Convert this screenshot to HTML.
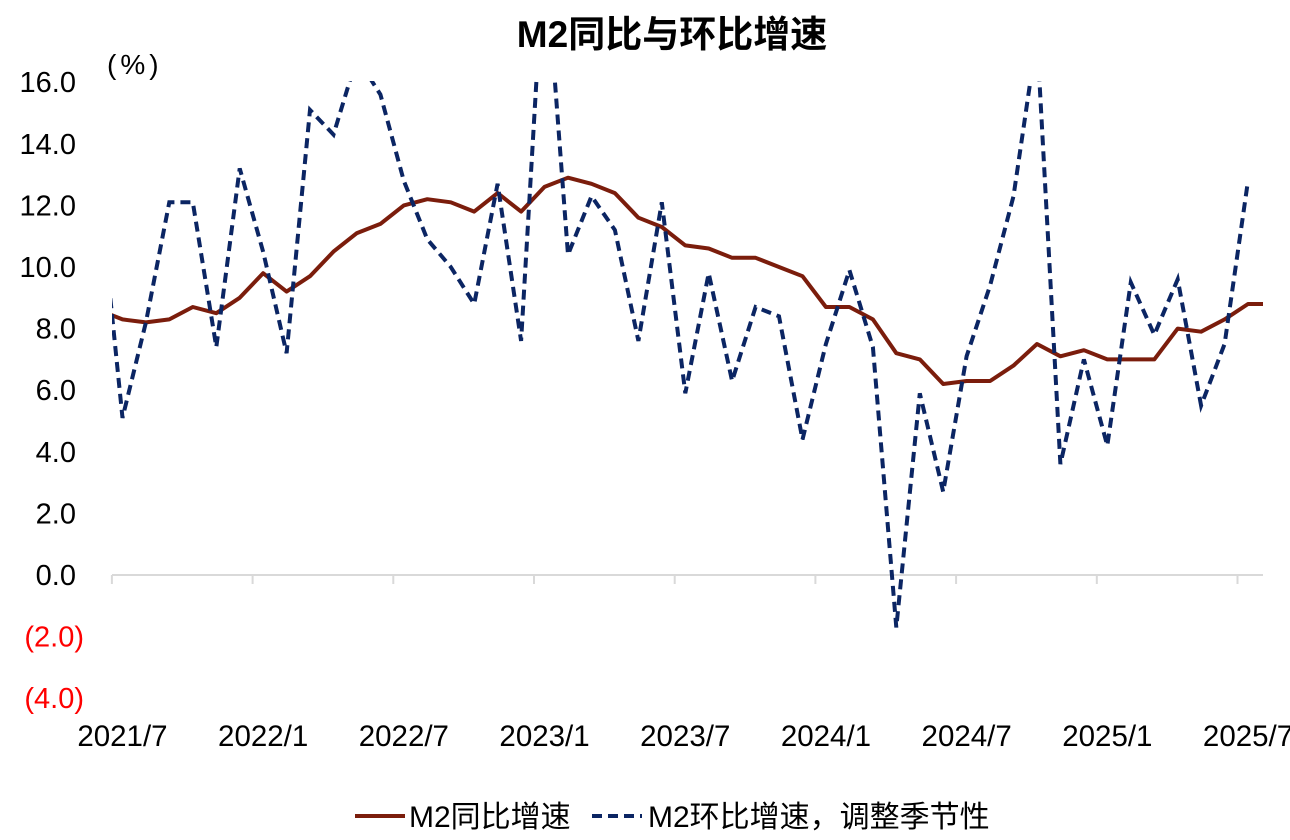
<!DOCTYPE html>
<html><head><meta charset="utf-8">
<style>
html,body{margin:0;padding:0;background:#fff;}
svg{display:block;font-family:"Liberation Sans","Noto Sans CJK SC",sans-serif;}
</style></head>
<body>
<svg id="chart" width="1290" height="840" viewBox="0 0 1290 840">
  <text x="672" y="47" text-anchor="middle" font-size="37" font-weight="bold" fill="#000">M2同比与环比增速</text>
  <text x="107" y="74" font-size="28" letter-spacing="4" fill="#000">(%)</text>
  <defs><clipPath id="plotclip"><rect x="112" y="81" width="1151" height="640"/></clipPath></defs>
  <g id="yaxis"></g>
  <g id="xaxis"></g>
  <g id="series" clip-path="url(#plotclip)"></g>
  <g>
    <line x1="355" y1="816" x2="405" y2="816" stroke="#7b1d0c" stroke-width="4"/>
    <text x="409" y="827" font-size="30" fill="#000">M2同比增速</text>
    <line x1="592" y1="816" x2="642" y2="816" stroke="#0b2563" stroke-width="4" stroke-dasharray="10,6"/>
    <text x="648" y="827" font-size="30" fill="#000">M2环比增速，调整季节性</text>
  </g>
</svg>
<script>
// data: months 2021/6 .. 2025/8
const yoyValues = [8.6,8.3,8.2,8.3,8.7,8.5,9.0,9.8,9.2,9.7,10.5,11.1,11.4,12.0,12.2,12.1,11.8,12.4,11.8,12.6,12.9,12.7,12.4,11.6,11.3,10.7,10.6,10.3,10.3,10.0,9.7,8.7,8.7,8.3,7.2,7.0,6.2,6.3,6.3,6.8,7.5,7.1,7.3,7.0,7.0,7.0,8.0,7.9,8.3,8.8,8.8];
const momValues = [12.6,5.1,8.2,12.1,12.1,7.4,13.2,10.5,7.2,15.1,14.3,16.8,15.6,12.8,10.9,10.0,8.8,12.7,7.6,20.5,10.4,12.3,11.2,7.6,12.1,5.9,9.8,6.3,8.7,8.4,4.4,7.5,9.9,7.4,-1.7,5.9,2.7,7.1,9.4,12.3,17.5,3.6,7.0,4.2,9.5,7.8,9.6,5.5,7.5,12.8];
const yTicks = [16,14,12,10,8,6,4,2,0,-2,-4];
const yTickLabels = ["16.0","14.0","12.0","10.0","8.0","6.0","4.0","2.0","0.0","(2.0)","(4.0)"];
const xLabels = ["2021/7","2022/1","2022/7","2023/1","2023/7","2024/1","2024/7","2025/1","2025/7"];
const xLabelIdx = [1,7,13,19,25,31,37,43,49];

const NS = "http://www.w3.org/2000/svg";
const X0 = 99, STEP = 23.45;
function xs(i){ return X0 + STEP*i; }
function ys(v){ return 575 - v*30.8; }
function mk(tag, attrs, parent){ const e=document.createElementNS(NS,tag); for(const k in attrs) e.setAttribute(k,attrs[k]); parent.appendChild(e); return e; }

const yg = document.getElementById('yaxis');
yTicks.forEach((v,k)=>{
  const t = mk('text',{x: v<0?84:76,y:ys(v)+10,'text-anchor':'end','font-size':29,fill: v<0?'#ff0000':'#000'},yg);
  t.textContent = yTickLabels[k];
  
  
});

const xg = document.getElementById('xaxis');
const axisLine = mk('line',{x1:112,y1:ys(0),x2:1263,y2:ys(0),stroke:'#d9d9d9','stroke-width':2},xg);


for(let k=0;k<9;k++){
  const tx = xs(0.55 + 6*k);
  const tk = mk('line',{x1:tx,y1:ys(0),x2:tx,y2:ys(0)+9,stroke:'#d9d9d9','stroke-width':2},xg);
  
  
}
xLabels.forEach((lab,k)=>{
  const t = mk('text',{x:xs(xLabelIdx[k]),y:746,'text-anchor':'middle','font-size':29.5,fill:'#000'},xg);
  t.textContent = lab;
  
  
});

const sg = document.getElementById('series');
function pts(arr){ return arr.map((v,i)=>xs(i).toFixed(1)+','+ys(v).toFixed(1)).join(' '); }
const yoy = mk('polyline',{points:pts(yoyValues),fill:'none',stroke:'#7b1d0c','stroke-width':4,'stroke-linejoin':'round'},sg);


const mom = mk('polyline',{points:pts(momValues),fill:'none',stroke:'#0b2563','stroke-width':4,'stroke-dasharray':'10,6'},sg);


</script>
</body></html>
